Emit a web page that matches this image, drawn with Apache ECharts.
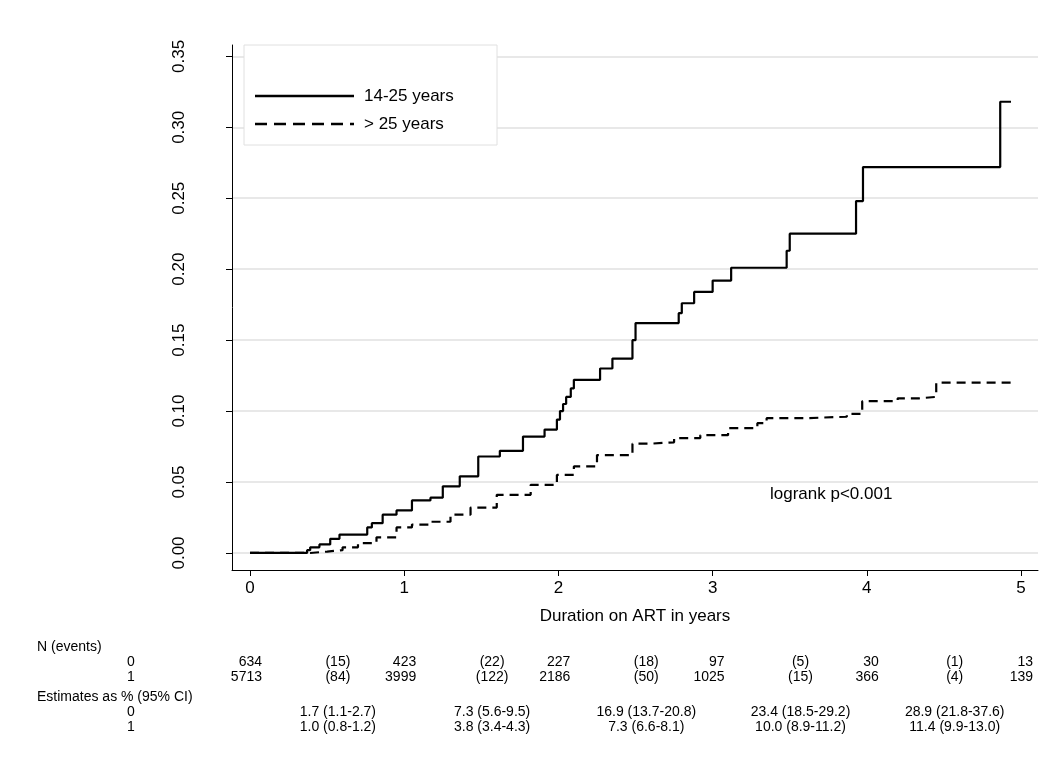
<!DOCTYPE html>
<html>
<head>
<meta charset="utf-8">
<script src="https://cdn.jsdelivr.net/npm/echarts@6/dist/echarts.min.js"></script>
<style>html,body{margin:0;padding:0;background:#fff}#chart{width:1055px;height:770px}</style>
</head>
<body>
<div id="chart"></div>
<script>
var young = [[0,0],[0.37,0.002],[0.39,0.004],[0.45,0.006],[0.52,0.010],[0.58,0.013],[0.76,0.018],[0.79,0.021],
    [0.86,0.027],[0.95,0.030],[1.05,0.037],[1.17,0.039],[1.25,0.047],[1.36,0.054],[1.48,0.068],[1.62,0.072],
    [1.77,0.082],[1.91,0.087],[1.99,0.094],[2.01,0.100],[2.03,0.105],[2.05,0.110],[2.08,0.116],[2.10,0.122],
    [2.27,0.130],[2.35,0.137],[2.48,0.150],[2.50,0.162],[2.78,0.169],[2.80,0.176],[2.88,0.184],[3.00,0.192],
    [3.12,0.201],[3.48,0.213],[3.50,0.225],[3.93,0.248],[3.975,0.272],[4.865,0.318],[4.935,0.318]]
var older = [[0,0],[0.39,0.001],[0.5,0.002],[0.6,0.004],[0.7,0.007],[0.82,0.011],[0.95,0.018],[1.05,0.020],
    [1.17,0.022],[1.3,0.027],[1.43,0.032],[1.6,0.041],[1.82,0.048],[1.99,0.055],[2.1,0.061],[2.25,0.069],
    [2.48,0.077],[2.59,0.078],[2.75,0.081],[2.92,0.083],[3.1,0.088],[3.29,0.0915],[3.35,0.095],[3.6,0.096],
    [3.87,0.098],[3.97,0.107],[4.2,0.109],[4.34,0.110],[4.45,0.120],[4.96,0.120]]
var yTicks = [0, 0.05, 0.10, 0.15, 0.20, 0.25, 0.30, 0.35]
var xTicks = [0, 1, 2, 3, 4, 5]
var atRisk0 = ['634', '423', '227', '97', '30', '13']
var atRisk1 = ['5713', '3999', '2186', '1025', '366', '139']
var events0 = ['(15)', '(22)', '(18)', '(5)', '(1)']
var events1 = ['(84)', '(122)', '(50)', '(15)', '(4)']
var est0 = ['1.7 (1.1-2.7)', '7.3 (5.6-9.5)', '16.9 (13.7-20.8)', '23.4 (18.5-29.2)', '28.9 (21.8-37.6)']
var est1 = ['1.0 (0.8-1.2)', '3.8 (3.4-4.3)', '7.3 (6.6-8.1)', '10.0 (8.9-11.2)', '11.4 (9.9-13.0)']

var font = 'Liberation Sans, Arial, sans-serif'
var chart = echarts.init(document.getElementById('chart'))

var xPx = function(v) { return 250 + v * 154.2 }
var txt = function(x, y, s, align) {
    return { type: 'text', x: x, y: y, style: { text: s, fill: '#000', font: '14px ' + font, textAlign: align || 'center', textVerticalAlign: 'middle' } }
}

var graphics = [
    { type: 'rect', shape: { x: 244, y: 45, width: 253, height: 100 }, style: { fill: '#fff', stroke: '#e0e0e0', lineWidth: 1 }, z: 10 },
    { type: 'line', shape: { x1: 255, y1: 96, x2: 354, y2: 96 }, style: { stroke: '#000', lineWidth: 2.5 }, z: 11 },
    { type: 'line', shape: { x1: 255, y1: 124, x2: 354, y2: 124 }, style: { stroke: '#000', lineWidth: 2.5, lineDash: [12, 7] }, z: 11 },
    { type: 'text', x: 364, y: 96, z: 11, style: { text: '14-25 years', fill: '#000', font: '17px ' + font, textVerticalAlign: 'middle' } },
    { type: 'text', x: 364, y: 124, z: 11, style: { text: '> 25 years', fill: '#000', font: '17px ' + font, textVerticalAlign: 'middle' } },
    { type: 'text', x: 770, y: 494, style: { text: 'logrank p<0.001', fill: '#000', font: '17px ' + font, textVerticalAlign: 'middle' } },
    txt(37, 647, 'N (events)', 'left'),
    txt(131, 662, '0'), txt(131, 677, '1'),
    txt(37, 697, 'Estimates as % (95% CI)', 'left'),
    txt(131, 712, '0'), txt(131, 727, '1')
]
atRisk0.forEach(function(s, i) { graphics.push(txt(xPx(i) + 12, 662, s, 'right')) })
atRisk1.forEach(function(s, i) { graphics.push(txt(xPx(i) + 12, 677, s, 'right')) })
events0.forEach(function(s, i) { graphics.push(txt(xPx(i + 0.57), 662, s)) })
events1.forEach(function(s, i) { graphics.push(txt(xPx(i + 0.57), 677, s)) })
est0.forEach(function(s, i) { graphics.push(txt(xPx(i + 0.57), 712, s)) })
est1.forEach(function(s, i) { graphics.push(txt(xPx(i + 0.57), 727, s)) })

chart.setOption({
    animation: false,
    grid: { left: 232, right: 17, top: 45, bottom: 200 },
    xAxis: {
        type: 'value', min: -0.117, max: 5.11,
        name: 'Duration on ART in years', nameLocation: 'middle', nameGap: 38,
        nameTextStyle: { fontSize: 17, color: '#000', fontFamily: font },
        axisLine: { onZero: false, lineStyle: { color: '#000' } },
        axisTick: { customValues: xTicks, length: 6, lineStyle: { color: '#000' } },
        axisLabel: { customValues: xTicks, fontSize: 17, color: '#000', fontFamily: font, margin: 10 },
        splitLine: { show: false }
    },
    yAxis: {
        type: 'value', min: -0.012, max: 0.358,
        axisLine: { show: true, onZero: false, lineStyle: { color: '#000' } },
        axisTick: { show: true, customValues: yTicks, length: 6, lineStyle: { color: '#000' } },
        axisLabel: { customValues: yTicks, rotate: 90, fontSize: 17, color: '#000', fontFamily: font, margin: 44,
            formatter: function(v) { return v.toFixed(2) } },
        splitLine: { show: false }
    },
    graphic: graphics,
    series: [{
        type: 'line', step: 'end', data: young, symbol: 'none',
        lineStyle: { color: '#000', width: 2.2 },
        markLine: {
            silent: true, symbol: 'none', label: { show: false }, animation: false,
            lineStyle: { color: '#e8e8e8', type: 'solid', width: 2 }, z: 0,
            data: yTicks.map(function(v) { return { yAxis: v } })
        }
    }, {
        type: 'line', step: 'end', data: older, symbol: 'none',
        lineStyle: { color: '#000', width: 2.2, type: [9, 6] }
    }]
})
</script>
</body>
</html>
